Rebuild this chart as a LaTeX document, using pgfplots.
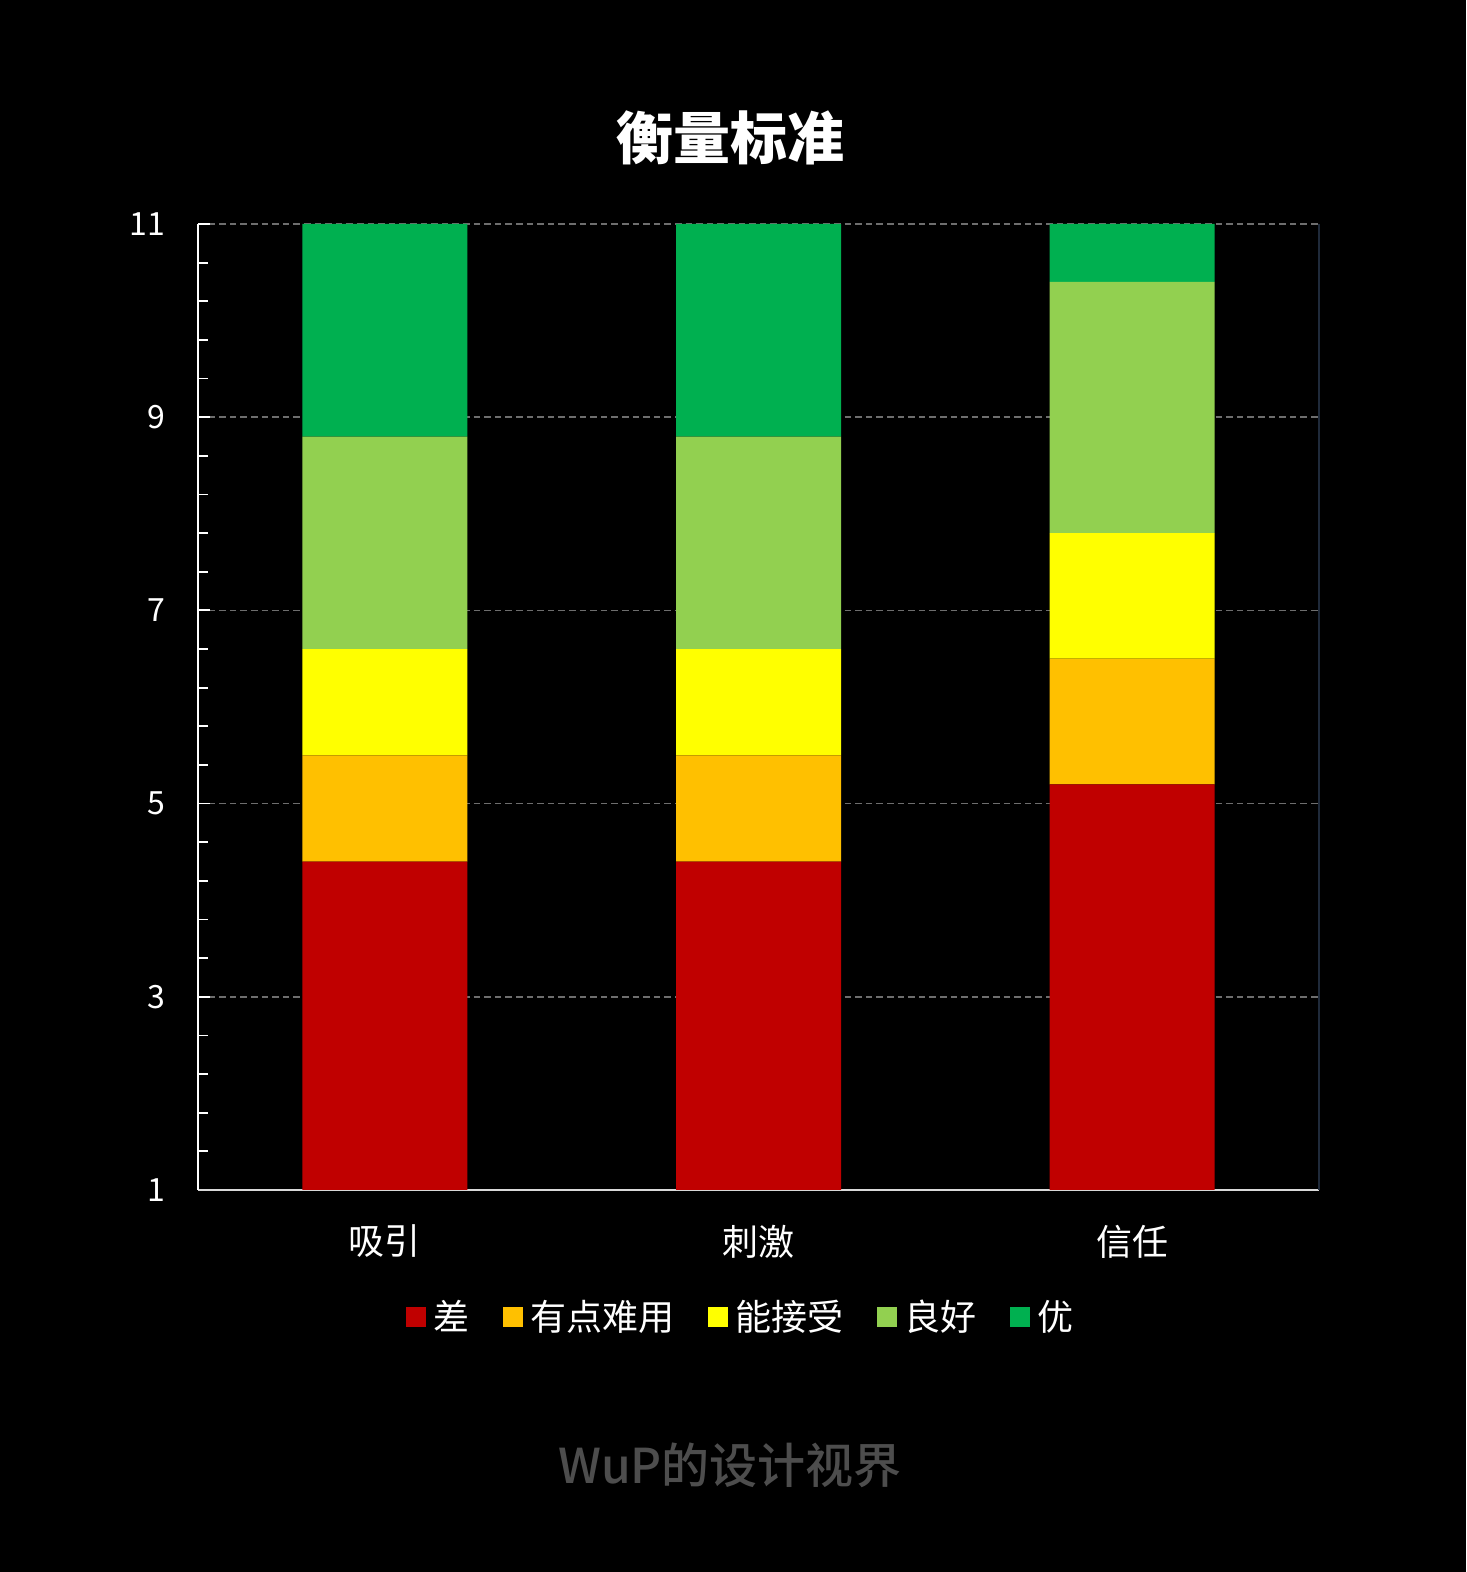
\documentclass[border=0pt]{standalone}
\usepackage{fontspec}
\setmainfont{Noto Sans CJK SC}
\newfontfamily\wmfont{Noto Sans CJK SC}[UprightFont=* Medium]
\usepackage{pgfplots}
\pgfplotsset{compat=1.18}

\definecolor{cPoor}{HTML}{C00000}
\definecolor{cHard}{HTML}{FFC000}
\definecolor{cOk}{HTML}{FFFF00}
\definecolor{cGood}{HTML}{92D050}
\definecolor{cBest}{HTML}{00B050}
\definecolor{gridgray}{HTML}{6E6E6E}
\definecolor{rightline}{HTML}{1F2A3A}
\definecolor{wmgray}{HTML}{4D4D4D}

\begin{document}
\begin{tikzpicture}[x=1pt,y=1pt]
\fill[black] (0,0) rectangle (733,786);
\node[text=white, font=\fontsize{28.5pt}{32pt}\selectfont\bfseries] at (365,717) {衡量标准};
\begin{axis}[
    at={(99pt,191pt)}, anchor=south west,
    scale only axis, width=560.5pt, height=483pt,
    ybar stacked, bar width=82.5pt,
    xmin=-0.5, xmax=2.5, ymin=1, ymax=11,
    xtick={0,1,2}, xticklabels={吸引,刺激,信任},
    major x tick style={draw=none},
    ytick={1,3,5,7,9,11}, minor y tick num=4,
    axis x line*=bottom, axis y line*=left,
    x axis line style={color=white!85!black, line width=1pt},
    y axis line style={color=white, line width=1pt},
    tick align=inside,
    major tick length=6pt, minor tick length=5pt,
    every tick/.style={white, line width=0.9pt},
    ymajorgrids,
    major grid style={gridgray, line width=0.75pt, dash pattern=on 3.3pt off 2pt},
    /pgf/number format/assume math mode=true,
    yticklabel style={text=white, font=\fontsize{16pt}{18pt}\selectfont, xshift=-13pt},
    xticklabel style={text=white, font=\fontsize{18pt}{20pt}\selectfont, yshift=-14pt},
    legend columns=5,
    legend style={at={(0.485,-0.131)}, anchor=center, draw=none, fill=none,
        text=white, font=\fontsize{18pt}{20pt}\selectfont,
        /tikz/every odd column/.append style={column sep=2pt},
        /tikz/every even column/.append style={column sep=14.5pt}},
    legend image code/.code={\fill[#1,draw=none] (0pt,-5pt) rectangle (10pt,5pt);},
]
\addplot[fill=cPoor, draw=none] coordinates {(0,4.4) (1,4.4) (2,5.2)};
\addlegendentry{差}
\addplot[fill=cHard, draw=none] coordinates {(0,1.1) (1,1.1) (2,1.3)};
\addlegendentry{有点难用}
\addplot[fill=cOk, draw=none] coordinates {(0,1.1) (1,1.1) (2,1.3)};
\addlegendentry{能接受}
\addplot[fill=cGood, draw=none] coordinates {(0,2.2) (1,2.2) (2,2.6)};
\addlegendentry{良好}
\addplot[fill=cBest, draw=none] coordinates {(0,2.2) (1,2.2) (2,0.6)};
\addlegendentry{优}
\end{axis}
\draw[rightline, line width=1pt] (659.5,191) -- (659.5,674);
\node[text=wmgray, font=\fontsize{24pt}{28pt}\selectfont\wmfont] at (365,53.5) {WuP的设计视界};
\pgfresetboundingbox
\path[use as bounding box] (0,0) rectangle (733,786);
\end{tikzpicture}
\end{document}
